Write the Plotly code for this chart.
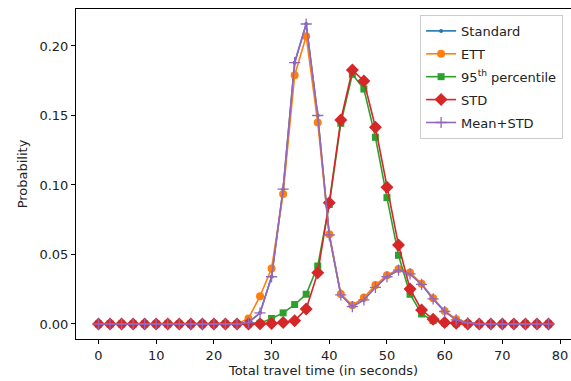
import plotly.graph_objects as go

travel_time = list(range(0, 80, 2))

zeros13 = [0.0] * 13
zeros7 = [0.0] * 7

ett = zeros13 + [0.004, 0.020, 0.040, 0.0935, 0.179, 0.207, 0.145, 0.0645, 0.0215, 0.0135,
                 0.019, 0.028, 0.035, 0.0395, 0.037, 0.029, 0.0185, 0.0094, 0.0034, 0.0008] + zeros7
mean_std = zeros13 + [0.001, 0.008, 0.034, 0.097, 0.188, 0.2158, 0.150, 0.064, 0.021, 0.0125,
                      0.0173, 0.0264, 0.034, 0.0388, 0.036, 0.0285, 0.018, 0.009, 0.003, 0.0008] + zeros7
standard = list(mean_std)
pct95 = zeros13 + [0.0, 0.0005, 0.004, 0.008, 0.014, 0.0214, 0.0417, 0.086, 0.1444, 0.1796,
                   0.169, 0.1343, 0.0909, 0.0494, 0.0214, 0.0072, 0.0024, 0.0008, 0.0002, 0.0] + zeros7
std = zeros13 + [0.0, 0.0001, 0.0003, 0.001, 0.0024, 0.0108, 0.0369, 0.0873, 0.1468, 0.1827,
                 0.1748, 0.1415, 0.0983, 0.0568, 0.0252, 0.0101, 0.0034, 0.001, 0.0005, 0.0] + zeros7

series = [
    ("Standard", standard, "#1f77b4", "circle", 4),
    ("ETT", ett, "#ff7f0e", "circle", 8),
    ("95<sup>th</sup> percentile", pct95, "#2ca02c", "square", 7),
    ("STD", std, "#d62728", "diamond", 10),
    ("Mean+STD", mean_std, "#9467bd", "cross-thin", 8),
]

fig = go.Figure()
for i, (name, vals, color, sym, size) in enumerate(series):
    marker = dict(color=color, symbol=sym, size=size)
    if sym == "cross-thin":
        marker["line"] = dict(color=color, width=1.3)
    fig.add_trace(go.Scatter(
        x=travel_time, y=vals, name=name, mode="lines+markers",
        line=dict(color=color, width=1.6), marker=marker, legendgroup=f"g{i}",
    ))

axis_common = dict(
    showgrid=False, zeroline=False, showline=True, linecolor="black", linewidth=1,
    mirror=True, ticks="outside", ticklen=4, tickcolor="black",
    tickfont=dict(family="DejaVu Sans", size=13, color="#222"),
)

fig.update_layout(
    width=571, height=381,
    margin=dict(l=76, r=0, t=9, b=42),
    paper_bgcolor="white", plot_bgcolor="white",
    font=dict(family="DejaVu Sans", size=13, color="#222"),
    xaxis=dict(range=[-3.9, 81.9], tickvals=[0, 10, 20, 30, 40, 50, 60, 70, 80],
               title=dict(text="Total travel time (in seconds)", standoff=4,
                          font=dict(family="DejaVu Sans", size=13)),
               **axis_common),
    yaxis=dict(range=[-0.0108, 0.2266], tickvals=[0, 0.05, 0.10, 0.15, 0.20], tickformat=".2f",
               title=dict(text="Probability", standoff=8,
                          font=dict(family="DejaVu Sans", size=13)),
               **axis_common),
    legend=dict(x=0.984, y=0.982, xanchor="right", yanchor="top",
                bgcolor="rgba(255,255,255,0.8)", bordercolor="#cccccc", borderwidth=1,
                font=dict(family="DejaVu Sans", size=13), tracegroupgap=3),
    showlegend=True,
)

fig.write_html("out.html")
